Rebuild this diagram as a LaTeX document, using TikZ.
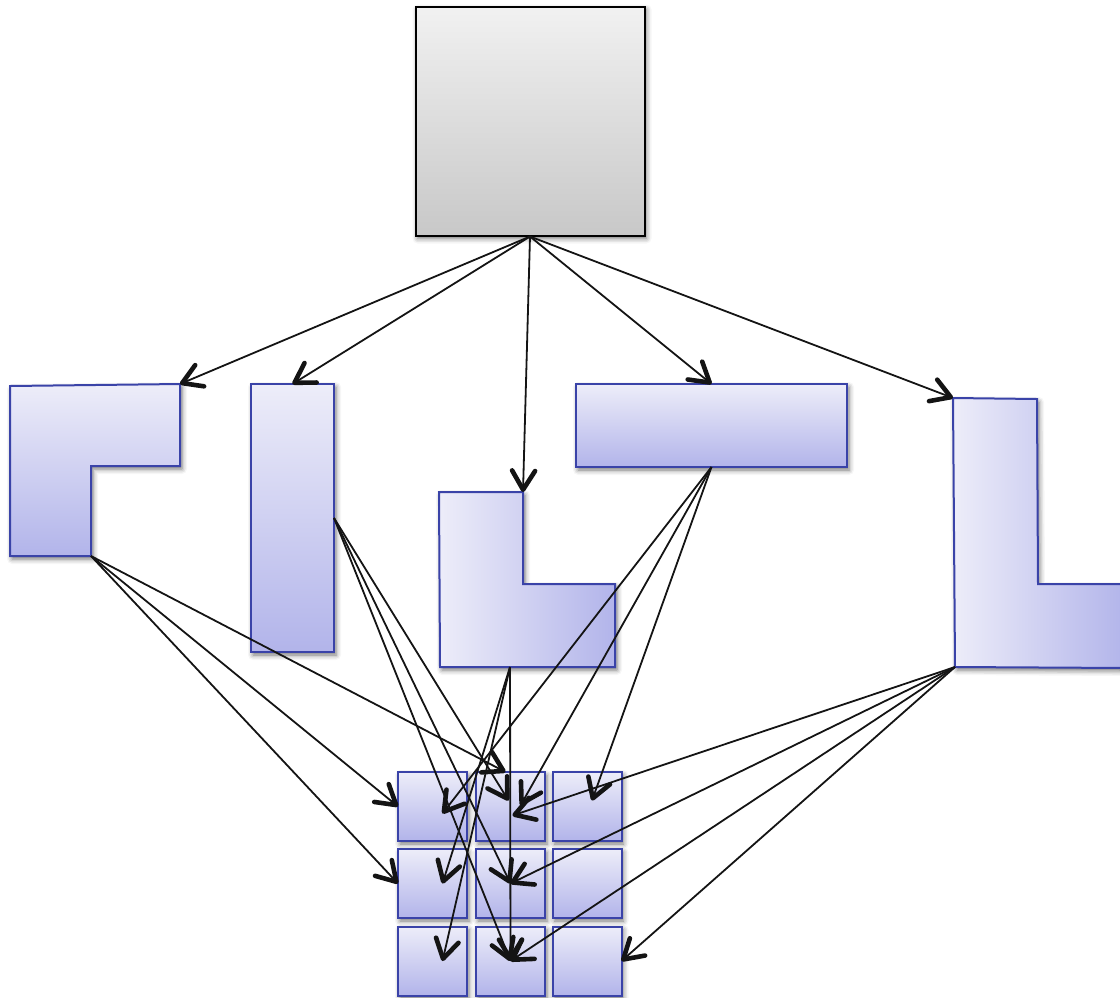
\documentclass[tikz,border=0pt]{standalone}
\usetikzlibrary{arrows.meta,shadows.blur}

\definecolor{blueedge}{HTML}{3A43A8}
\definecolor{bluelight}{HTML}{EDEDF9}
\definecolor{bluedark}{HTML}{B2B4EA}
\definecolor{greytop}{HTML}{F1F1F1}
\definecolor{greybot}{HTML}{C8C8C8}

\tikzset{
  softshadow/.style={blur shadow={shadow xshift=2pt, shadow yshift=-3pt,
      shadow blur radius=5pt, shadow opacity=55}},
  piece/.style={draw=blueedge, line width=2pt, softshadow},
  vgrad/.style={top color=bluelight, bottom color=bluedark},
  hgrad/.style={left color=bluelight, right color=bluedark},
  cell/.style={piece, vgrad, minimum width=69pt, minimum height=69pt,
      inner sep=0pt, outer sep=0pt},
  link/.style={line width=1.8pt, black!92,
      -{Straight Barb[length=19pt, width=23pt, line width=4.6pt, round]}},
}

\begin{document}
\begin{tikzpicture}[x=1pt, y=-1pt]
\useasboundingbox (0,0) rectangle (1120,997);

% source block
\node[draw=black, line width=2pt, top color=greytop, bottom color=greybot,
      softshadow, minimum width=229pt, minimum height=229pt, inner sep=0pt]
      (src) at (530,121) {};

% pieces
\path[piece, vgrad] (10,386) -- (180,384) -- (180,466) -- (91,466)
      -- (91,556) -- (10,556) -- cycle;
\coordinate (Atop) at (180,384);
\coordinate (Afoot) at (91,556);

\node[piece, vgrad, minimum width=83pt, minimum height=268pt, inner sep=0pt,
      outer sep=0pt] (bar) at (292.5,518) {};

\path[piece, hgrad] (439,492) -- (523,492) -- (523,584) -- (615,584)
      -- (615,667) -- (440,667) -- cycle;
\coordinate (Ctop) at (523,492);
\coordinate (Cfoot) at (510,667);

\node[piece, vgrad, minimum width=271pt, minimum height=83pt, inner sep=0pt,
      outer sep=0pt] (wide) at (711.5,425.5) {};

\path[piece, hgrad] (953,398) -- (1037,399) -- (1038,584) -- (1126,584)
      -- (1126,668) -- (955,667) -- cycle;
\coordinate (Etop) at (953,398);
\coordinate (Efoot) at (955,667);

% target grid
\foreach \r/\y in {1/806.5, 2/883.5, 3/961}
  \foreach \c/\x in {1/432.5, 2/510.5, 3/587}
    \node[cell] (s\r\c) at (\x,\y) {};

% connectors from the source block
\draw[link] (src.south) -- (Atop);
\draw[link] (src.south) -- (bar.north);
\draw[link] (src.south) -- (Ctop);
\draw[link] (src.south) -- (wide.north);
\draw[link] (src.south) -- (Etop);

% connectors into the grid
\draw[link] (Afoot) -- (s11.west);
\draw[link] (Afoot) -- (s21.west);
\draw[link] (Afoot) -- ([xshift=-5pt]s12.north);

\draw[link] (bar.east) -- ([xshift=-2pt,yshift=6pt]s12.center);
\draw[link] (bar.east) -- (s22.center);
\draw[link] (bar.east) -- (s32.center);

\draw[link] (Cfoot) -- (s32.center);
\draw[link] (Cfoot) -- ([xshift=10pt]s21.center);
\draw[link] (Cfoot) -- ([xshift=10pt]s31.center);

\draw[link] (wide.south) -- ([xshift=10pt,yshift=-7pt]s11.center);
\draw[link] (wide.south) -- ([xshift=10pt,yshift=1pt]s12.center);
\draw[link] (wide.south) -- ([xshift=5pt,yshift=6pt]s13.center);

\draw[link] (Efoot) -- ([xshift=2pt,yshift=-9pt]s12.center);
\draw[link] (Efoot) -- (s22.center);
\draw[link] (Efoot) -- (s32.center);
\draw[link] (Efoot) -- (s33.east);
\end{tikzpicture}
\end{document}
